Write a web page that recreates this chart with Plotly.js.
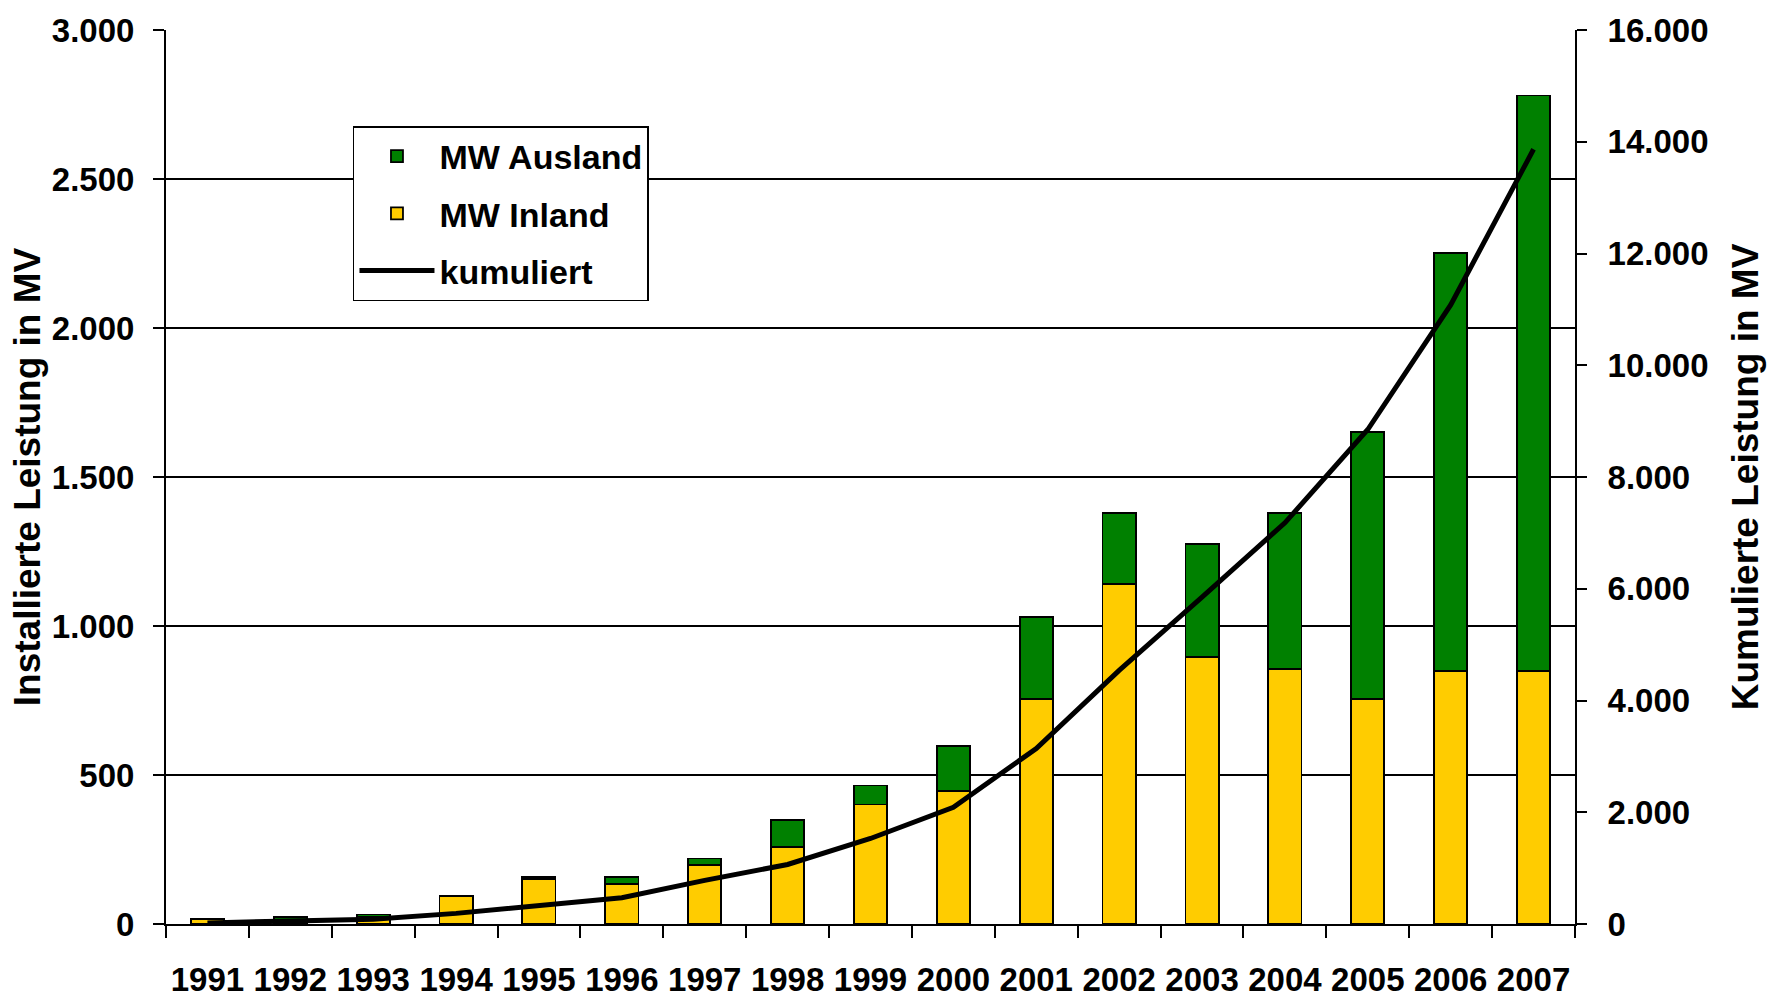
<!DOCTYPE html>
<html>
<head>
<meta charset="utf-8">
<script src="https://cdn.plot.ly/plotly-3.0.1.min.js"></script>
<style>html,body{margin:0;padding:0;background:#fff;}#chart{width:1770px;height:998px;}</style>
</head>
<body>
<div id="chart"></div>
<script>
var years = ['1991','1992','1993','1994','1995','1996','1997','1998','1999','2000','2001','2002','2003','2004','2005','2006','2007'];
var inland = [17, 15, 25, 94, 150, 134, 197, 258, 401, 447, 754, 1140, 896, 856, 754, 848, 848];
var ausland = [0, 8, 7, 0, 8, 25, 23, 90, 64, 151, 275, 238, 378, 522, 898, 1403, 1932];
var kumuliert = [20, 45, 85, 190, 340, 470, 780, 1065, 1530, 2090, 3140, 4540, 5850, 7180, 8850, 11080, 13865];
var leftTicks = [0, 500, 1000, 1500, 2000, 2500, 3000];
var rightTicks = [0, 2000, 4000, 6000, 8000, 10000, 12000, 14000, 16000];

var FONT = 'Liberation Sans, Arial, sans-serif';
function fmt(v){ return v.toString().replace(/\B(?=(\d{3})+(?!\d))/g, '.'); }

var traces = [
  {type:'bar', name:'MW Inland', x:years, y:inland, legendrank:2, legendgroup:'b',
   marker:{color:'#FFCC00', line:{color:'#000', width:1.8}}},
  {type:'bar', name:'MW Ausland', x:years, y:ausland, legendrank:1, legendgroup:'a',
   marker:{color:'#008000', line:{color:'#000', width:1.8}}},
  {type:'scatter', mode:'lines', name:'kumuliert', x:years, y:kumuliert, yaxis:'y2', legendrank:3, legendgroup:'c',
   line:{color:'#000', width:5}}
];

var layout = {
  width:1770, height:998,
  margin:{l:166, r:195, t:30, b:74},
  paper_bgcolor:'#fff', plot_bgcolor:'#fff',
  barmode:'stack', bargap:0.6,
  font:{family:FONT, color:'#000', weight:'bold'},
  showlegend:true,
  legend:{x:0.1327, y:0.8926, xanchor:'left', yanchor:'top', bgcolor:'#fff',
          bordercolor:'#000', borderwidth:1.5, traceorder:'grouped', tracegroupgap:10,
          itemwidth:75,
          font:{family:FONT, size:34, color:'#000', weight:'bold'}},
  xaxis:{type:'category', tickson:'boundaries', ticks:'outside', ticklen:12, tickwidth:2, tickcolor:'#000',
         showline:true, linecolor:'#000', linewidth:2, showgrid:false, zeroline:false,
         tickangle:0, ticklabelstandoff:25,
         tickfont:{family:FONT, size:33, color:'#000', weight:'bold'}},
  yaxis:{range:[0,3000], tickvals:leftTicks, ticktext:leftTicks.map(fmt), ticks:'outside', ticklen:11,
         tickwidth:2, tickcolor:'#000', showline:true, linecolor:'#000', linewidth:2,
         showgrid:true, gridcolor:'#000', gridwidth:1.5, zeroline:false, ticklabelstandoff:12,
         tickfont:{family:FONT, size:33, color:'#000', weight:'bold'},
         title:{text:'Installierte Leistung in MV', standoff:0,
                font:{family:FONT, size:37, color:'#000', weight:'bold'}}},
  yaxis2:{range:[0,16000], tickvals:rightTicks, ticktext:rightTicks.map(fmt), overlaying:'y', side:'right',
          ticks:'outside', ticklen:10, tickwidth:2, tickcolor:'#000', showline:true, linecolor:'#000',
          linewidth:2, showgrid:false, zeroline:false, ticklabelstandoff:14,
          tickfont:{family:FONT, size:33, color:'#000', weight:'bold'},
          title:{text:'Kumulierte Leistung in MV', standoff:25,
                 font:{family:FONT, size:37, color:'#000', weight:'bold'}}}
};

Plotly.newPlot('chart', traces, layout, {displayModeBar:false, staticPlot:true});
</script>
</body>
</html>
